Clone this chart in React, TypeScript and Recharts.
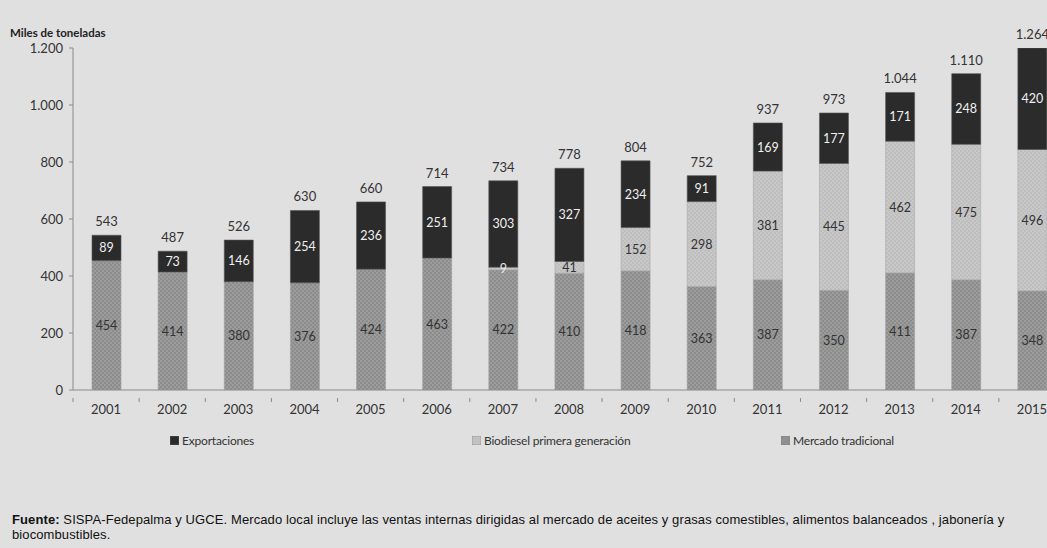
import { Bar, BarChart, LabelList, XAxis, YAxis } from "recharts"

const YEARS = ["2001", "2002", "2003", "2004", "2005", "2006", "2007", "2008", "2009", "2010", "2011", "2012", "2013", "2014", "2015"]
const MERCADO = [454, 414, 380, 376, 424, 463, 422, 410, 418, 363, 387, 350, 411, 387, 348]
const BIODIESEL = [0, 0, 0, 0, 0, 0, 9, 41, 152, 298, 381, 445, 462, 475, 496]
const EXPORT = [89, 73, 146, 254, 236, 251, 303, 327, 234, 91, 169, 177, 171, 248, 420]
const TOTALS = [543, 487, 526, 630, 660, 714, 734, 778, 804, 752, 937, 973, 1044, 1110, 1264]
const Y_TICKS = [0, 200, 400, 600, 800, 1000, 1200]

const PLOT_TOP = 48
const BAND = 66.1
const FONT = "Lato, 'Open Sans', sans-serif"

const data = YEARS.map((year, i) => ({
  year,
  mercado: MERCADO[i],
  biodiesel: BIODIESEL[i],
  exportaciones: EXPORT[i],
  total: TOTALS[i],
}))

const fmt = (v: number) => String(v).replace(/\B(?=(\d{3})+(?!\d))/g, ".")

const XTick = ({ x, y, payload }: any) => (
  <g>
    <line x1={x - BAND / 2} x2={x - BAND / 2} y1={y} y2={y + 4} stroke="#8a8a8a" />
    <text x={x} y={y + 16} textAnchor="middle" fill="#333" fontSize={13} fontFamily={FONT}>
      {payload.value}
    </text>
  </g>
)

const segLabel = (color: string) => (props: any) => {
  const { x, y, width, height, value } = props
  if (!value) return null
  const top = Math.max(y, PLOT_TOP)
  const cy = top + (y + height - top) / 2
  return (
    <text x={x + width / 2} y={cy + 4.5} textAnchor="middle" fill={color} fontSize={12.5} fontFamily={FONT}>
      {value}
    </text>
  )
}

const TotalLabel = (props: any) => {
  const { x, y, width, index } = props
  const top = Math.max(y, PLOT_TOP - 4)
  return (
    <text x={x + width / 2} y={top - 9} textAnchor="middle" fill="#333" fontSize={13} fontFamily={FONT}>
      {fmt(TOTALS[index])}
    </text>
  )
}

const LEGEND_ITEMS = [
  { label: "Exportaciones", swatch: "#2b2b2b", left: 170 },
  { label: "Biodiesel primera generación", swatch: "#c2c2c2", left: 472 },
  { label: "Mercado tradicional", swatch: "#909090", left: 781 },
]

export default function App() {
  return (
    <div
      style={{
        position: "fixed",
        left: 0,
        top: 0,
        width: 1047,
        height: 548,
        overflow: "hidden",
        background: "#e0e0e0",
      }}
    >
      <div
        style={{
          position: "absolute",
          left: 10,
          top: 26,
          fontFamily: FONT,
          fontWeight: 700,
          fontSize: 11.5,
          color: "#222",
        }}
      >
        Miles de toneladas
      </div>
      <div style={{ position: "absolute", left: 0, top: 0 }}>
        <BarChart
          width={1071}
          height={430}
          data={data}
          margin={{ top: PLOT_TOP, right: 6, left: 0, bottom: 10 }}
          barSize={29}
        >
          <defs>
            <pattern id="patMer" width={4} height={4} patternUnits="userSpaceOnUse">
              <rect width={4} height={4} fill="#8c8c8c" />
              <rect width={2} height={2} fill="#9c9c9c" />
              <rect x={2} y={2} width={2} height={2} fill="#9c9c9c" />
            </pattern>
            <pattern id="patBio" width={4} height={4} patternUnits="userSpaceOnUse">
              <rect width={4} height={4} fill="#bebebe" />
              <rect width={2} height={2} fill="#c8c8c8" />
              <rect x={2} y={2} width={2} height={2} fill="#c8c8c8" />
            </pattern>
          </defs>
          <XAxis
            dataKey="year"
            stroke="#8a8a8a"
            tickLine={false}
            tick={<XTick />}
            interval={0}
            height={30}
          />
          <YAxis
            width={73}
            domain={[0, 1200]}
            ticks={Y_TICKS}
            allowDataOverflow
            stroke="#8a8a8a"
            tickSize={4}
            tickMargin={6}
            tickFormatter={fmt}
            tick={{ fill: "#333", fontSize: 13, fontFamily: FONT }}
          />
          <Bar dataKey="mercado" stackId="a" fill="url(#patMer)" stroke="#a0a0a0" strokeWidth={0.6} isAnimationActive={false} name="Mercado tradicional">
            <LabelList dataKey="mercado" content={segLabel("#333")} />
          </Bar>
          <Bar dataKey="biodiesel" stackId="a" fill="url(#patBio)" stroke="#a8a8a8" strokeWidth={0.6} isAnimationActive={false} name="Biodiesel primera generación">
            <LabelList dataKey="biodiesel" content={(p: any) => segLabel(p.value < 20 ? "#e8e8e8" : "#333")(p)} />
          </Bar>
          <Bar dataKey="exportaciones" stackId="a" fill="#2b2b2b" stroke="#555" strokeWidth={0.6} isAnimationActive={false} name="Exportaciones">
            <LabelList dataKey="exportaciones" content={segLabel("#f0f0f0")} />
            <LabelList dataKey="total" content={<TotalLabel />} />
          </Bar>
        </BarChart>
      </div>
      {LEGEND_ITEMS.map((it) => (
        <div
          key={it.label}
          style={{
            position: "absolute",
            left: it.left,
            top: 433,
            display: "flex",
            alignItems: "center",
            fontFamily: FONT,
            fontSize: 12,
            color: "#333",
            letterSpacing: -0.2,
          }}
        >
          <svg width={9} height={9} style={{ marginRight: 3 }}>
            <rect width={9} height={9} fill={it.swatch} stroke="#777" strokeWidth={0.5} />
          </svg>
          {it.label}
        </div>
      ))}
      <div
        style={{
          position: "absolute",
          left: 12,
          top: 512,
          width: 1030,
          fontFamily: "'Liberation Sans', Arial, sans-serif",
          fontSize: 13,
          lineHeight: "15px",
          color: "#111",
          letterSpacing: 0.1,
          whiteSpace: "nowrap",
        }}
      >
        <b>Fuente:</b> SISPA-Fedepalma y UGCE. Mercado local incluye las ventas internas dirigidas al mercado de aceites y grasas comestibles, alimentos balanceados , jabonería y
        <br />
        biocombustibles.
      </div>
    </div>
  )
}
